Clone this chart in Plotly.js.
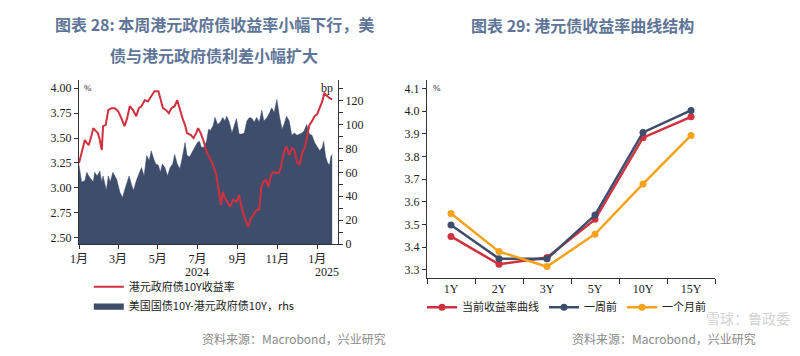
<!DOCTYPE html>
<html>
<head>
<meta charset="utf-8">
<script src="https://cdn.plot.ly/plotly-3.0.1.min.js"></script>
<style>html,body{margin:0;padding:0;background:#fff;}#chart{width:800px;height:356px;}</style>
</head>
<body>
<div id="chart"></div>
<script>
// ---- Chart 28: HK govt 10Y yield (%) and US10Y - HK10Y spread (bp) ----
const yieldDates = ['2024-01-01','2024-01-05','2024-01-10','2024-01-12','2024-01-16','2024-01-20','2024-01-23','2024-01-27','2024-01-30','2024-02-02','2024-02-05','2024-02-07','2024-02-11','2024-02-15','2024-02-20','2024-02-25','2024-03-01','2024-03-06','2024-03-11','2024-03-15','2024-03-19','2024-03-24','2024-03-29','2024-04-02','2024-04-06','2024-04-11','2024-04-16','2024-04-21','2024-04-26','2024-05-02','2024-05-05','2024-05-09','2024-05-14','2024-05-18','2024-05-22','2024-05-27','2024-05-31','2024-06-04','2024-06-08','2024-06-12','2024-06-15','2024-06-21','2024-06-25','2024-06-29','2024-07-02','2024-07-06','2024-07-10','2024-07-15','2024-07-20','2024-07-24','2024-07-30','2024-08-02','2024-08-06','2024-08-09','2024-08-12','2024-08-16','2024-08-20','2024-08-25','2024-08-30','2024-09-03','2024-09-07','2024-09-11','2024-09-15','2024-09-17','2024-09-21','2024-09-25','2024-09-30','2024-10-04','2024-10-07','2024-10-10','2024-10-14','2024-10-18','2024-10-22','2024-10-26','2024-10-30','2024-11-03','2024-11-06','2024-11-09','2024-11-13','2024-11-15','2024-11-19','2024-11-23','2024-11-27','2024-12-01','2024-12-05','2024-12-09','2024-12-13','2024-12-16','2024-12-20','2024-12-24','2024-12-28','2025-01-01','2025-01-05','2025-01-09','2025-01-12','2025-01-16','2025-01-20','2025-01-24'];
const hkYield10Y = [3.25,3.35,3.48,3.46,3.43,3.52,3.60,3.57,3.55,3.48,3.38,3.62,3.63,3.78,3.80,3.80,3.77,3.70,3.62,3.70,3.82,3.78,3.72,3.80,3.82,3.88,3.87,3.92,3.97,3.97,3.90,3.80,3.78,3.75,3.80,3.82,3.88,3.78,3.70,3.63,3.55,3.53,3.50,3.55,3.60,3.55,3.48,3.36,3.30,3.25,3.13,3.00,2.83,2.96,2.90,2.86,2.81,2.88,2.86,2.93,2.80,2.71,2.63,2.61,2.69,2.73,2.78,2.78,3.00,3.06,3.08,3.01,3.13,3.16,3.15,3.15,3.20,3.30,3.40,3.41,3.33,3.40,3.38,3.26,3.23,3.35,3.41,3.50,3.63,3.67,3.72,3.74,3.80,3.87,3.95,3.92,3.90,3.89];

const spreadDates = ['2024-01-01','2024-01-05','2024-01-10','2024-01-13','2024-01-17','2024-01-23','2024-01-25','2024-01-29','2024-02-02','2024-02-05','2024-02-07','2024-02-10','2024-02-12','2024-02-15','2024-02-18','2024-02-22','2024-02-28','2024-03-04','2024-03-08','2024-03-11','2024-03-15','2024-03-18','2024-03-22','2024-03-25','2024-03-29','2024-04-02','2024-04-06','2024-04-10','2024-04-14','2024-04-18','2024-04-21','2024-04-25','2024-04-28','2024-05-02','2024-05-05','2024-05-08','2024-05-12','2024-05-16','2024-05-20','2024-05-24','2024-05-27','2024-05-31','2024-06-04','2024-06-08','2024-06-12','2024-06-15','2024-06-19','2024-06-24','2024-06-27','2024-07-01','2024-07-04','2024-07-07','2024-07-11','2024-07-15','2024-07-18','2024-07-21','2024-07-25','2024-07-28','2024-08-01','2024-08-05','2024-08-09','2024-08-12','2024-08-15','2024-08-19','2024-08-23','2024-08-26','2024-08-30','2024-09-03','2024-09-07','2024-09-11','2024-09-15','2024-09-19','2024-09-23','2024-09-26','2024-09-30','2024-10-04','2024-10-08','2024-10-11','2024-10-16','2024-10-20','2024-10-23','2024-10-27','2024-10-31','2024-11-04','2024-11-08','2024-11-11','2024-11-15','2024-11-19','2024-11-23','2024-11-27','2024-12-01','2024-12-05','2024-12-09','2024-12-12','2024-12-16','2024-12-20','2024-12-24','2024-12-28','2025-01-01','2025-01-05','2025-01-09','2025-01-11','2025-01-14','2025-01-17','2025-01-20','2025-01-22','2025-01-24'];
const usHkSpreadBp = [66,52,53,60,56,52,60,57,61,52,57,49,45,57,52,60,54,43,39,45,52,57,49,45,53,59,64,57,74,70,78,71,67,66,60,67,64,57,64,67,75,67,63,73,85,74,73,78,81,85,86,81,81,86,96,95,99,106,100,102,106,103,107,102,93,99,105,92,92,93,103,106,105,102,106,102,112,103,106,110,114,110,121,107,96,100,107,103,91,93,91,92,93,95,100,92,91,85,82,78,81,86,73,68,66,73,75];

const monthTickVals = ['2024-01-01','2024-03-01','2024-05-01','2024-07-01','2024-09-01','2024-11-01','2025-01-01'];
const monthTickText = ['1月','3月','5月','7月','9月','11月','1月'];
const yearLabels = ['2024','2025'];

// ---- Chart 29: HKD yield curve ----
const tenors = ['1Y','2Y','3Y','5Y','10Y','15Y'];
const curveNow = [3.448,3.325,3.355,3.523,3.883,3.975];
const curveWeekAgo = [3.498,3.350,3.349,3.542,3.906,4.003];
const curveMonthAgo = [3.549,3.381,3.315,3.458,3.679,3.893];

const RED = '#d0313f', NAVY = '#3e4d6c', ORANGE = '#f5a21c';
const SERIF = 'Liberation Serif, Noto Sans CJK SC, serif';
const CJK = 'Noto Sans CJK SC, sans-serif';

const traces = [
  {x: spreadDates, y: usHkSpreadBp, type: 'scatter', mode: 'lines', fill: 'tozeroy',
   line: {color: NAVY, width: 0.5}, fillcolor: NAVY, name: '美国国债10Y-港元政府债10Y，rhs',
   xaxis: 'x', yaxis: 'y', legend: 'legend', legendrank: 2},
  {x: yieldDates, y: hkYield10Y, type: 'scatter', mode: 'lines',
   line: {color: RED, width: 2}, name: '港元政府债10Y收益率',
   xaxis: 'x', yaxis: 'y2', legend: 'legend', legendrank: 1},
  {x: tenors, y: curveNow, type: 'scatter', mode: 'lines+markers', name: '当前收益率曲线',
   line: {color: RED, width: 2.5}, marker: {color: RED, size: 7},
   xaxis: 'x2', yaxis: 'y3', legend: 'legend2'},
  {x: tenors, y: curveWeekAgo, type: 'scatter', mode: 'lines+markers', name: '一周前',
   line: {color: NAVY, width: 2.5}, marker: {color: NAVY, size: 7},
   xaxis: 'x2', yaxis: 'y3', legend: 'legend2'},
  {x: tenors, y: curveMonthAgo, type: 'scatter', mode: 'lines+markers', name: '一个月前',
   line: {color: ORANGE, width: 2.5}, marker: {color: ORANGE, size: 7},
   xaxis: 'x2', yaxis: 'y3', legend: 'legend2'}
];

const axisCommon = {showgrid: false, zeroline: false, showline: true, linecolor: '#333', linewidth: 1,
  ticks: 'outside', ticklen: 4, tickcolor: '#333', tickfont: {family: SERIF, size: 12, color: '#222'}, fixedrange: true};

const layout = {
  width: 800, height: 356, autosize: false,
  margin: {l: 0, r: 0, t: 0, b: 0},
  paper_bgcolor: '#fff', plot_bgcolor: 'rgba(0,0,0,0)',
  showlegend: true,
  xaxis: Object.assign({}, axisCommon, {domain: [0.09875, 0.4225], type: 'date', anchor: 'y',
    range: ['2024-01-01', '2025-02-02'], tickmode: 'array', tickvals: monthTickVals, ticktext: monthTickText}),
  yaxis: Object.assign({}, axisCommon, {domain: [0.3146, 0.7753], side: 'right', anchor: 'x',
    range: [0, 137.3], dtick: 20, tick0: 0, minor: {dtick: 10, ticks: 'outside', ticklen: 4, tickcolor: '#333'}}),
  yaxis2: Object.assign({}, axisCommon, {overlaying: 'y', side: 'left', anchor: 'x',
    range: [2.437, 4.083], dtick: 0.25, tick0: 2.5, tickformat: '.2f'}),
  xaxis2: Object.assign({}, axisCommon, {domain: [0.53375, 0.89375], type: 'category', anchor: 'y3',
    range: [-0.5, 5.5], tickson: 'boundaries', ticklen: 5}),
  yaxis3: Object.assign({}, axisCommon, {domain: [0.2199, 0.7753], anchor: 'x2',
    range: [3.266, 4.137], dtick: 0.1, tick0: 3.3, tickformat: '.1f'}),
  legend: {x: 0.111, y: 0.235, xanchor: 'left', yanchor: 'top', orientation: 'v',
    bgcolor: 'rgba(0,0,0,0)', font: {family: CJK, size: 11, color: '#222'}, tracegroupgap: 0, traceorder: 'normal'},
  legend2: {x: 0.5275, y: 0.178, xanchor: 'left', yanchor: 'top', orientation: 'h',
    bgcolor: 'rgba(0,0,0,0)', font: {family: CJK, size: 11, color: '#222'}},
  annotations: [
    {text: '图表 28: 本周港元政府债收益率小幅下行，美', xref: 'paper', yref: 'paper', x: 214/800, y: 1 - 24/356,
     xanchor: 'center', yanchor: 'middle', showarrow: false, font: {family: CJK, size: 16, color: '#5e7598', weight: 'bold'}},
    {text: '债与港元政府债利差小幅扩大', xref: 'paper', yref: 'paper', x: 214/800, y: 1 - 55/356,
     xanchor: 'center', yanchor: 'middle', showarrow: false, font: {family: CJK, size: 16, color: '#5e7598', weight: 'bold'}},
    {text: '图表 29: 港元债收益率曲线结构', xref: 'paper', yref: 'paper', x: 582/800, y: 1 - 25/356,
     xanchor: 'center', yanchor: 'middle', showarrow: false, font: {family: CJK, size: 16, color: '#5e7598', weight: 'bold'}},
    {text: yearLabels[0], xref: 'x', yref: 'paper', x: '2024-07-01', y: 1 - 272/356, xanchor: 'center', yanchor: 'middle',
     showarrow: false, font: {family: SERIF, size: 12, color: '#222'}},
    {text: yearLabels[1], xref: 'paper', yref: 'paper', x: 327/800, y: 1 - 272/356, xanchor: 'center', yanchor: 'middle',
     showarrow: false, font: {family: SERIF, size: 12, color: '#222'}},
    {text: '%', xref: 'paper', yref: 'paper', x: 82/800, y: 1 - 88/356, xanchor: 'left', yanchor: 'middle',
     showarrow: false, font: {family: SERIF, size: 9, color: '#222'}},
    {text: 'bp', xref: 'paper', yref: 'paper', x: 327/800, y: 1 - 88/356, xanchor: 'center', yanchor: 'middle',
     showarrow: false, font: {family: SERIF, size: 12, color: '#222'}},
    {text: '%', xref: 'paper', yref: 'paper', x: 431/800, y: 1 - 88/356, xanchor: 'left', yanchor: 'middle',
     showarrow: false, font: {family: SERIF, size: 9, color: '#222'}},
    {text: '资料来源：Macrobond，兴业研究', xref: 'paper', yref: 'paper', x: 200/800, y: 1 - 338/356, xanchor: 'left', yanchor: 'middle',
     showarrow: false, font: {family: CJK, size: 12, color: '#8a8a8a'}},
    {text: '资料来源：Macrobond，兴业研究', xref: 'paper', yref: 'paper', x: 570/800, y: 1 - 338/356, xanchor: 'left', yanchor: 'middle',
     showarrow: false, font: {family: CJK, size: 12, color: '#8a8a8a'}},
    {text: '雪球：鲁政委', xref: 'paper', yref: 'paper', x: 792/800, y: 1 - 318/356, xanchor: 'right', yanchor: 'middle',
     showarrow: false, font: {family: CJK, size: 14, color: 'rgba(190,190,190,0.7)'}}
  ]
};

Plotly.newPlot('chart', traces, layout, {staticPlot: true, displayModeBar: false});
</script>
</body>
</html>
